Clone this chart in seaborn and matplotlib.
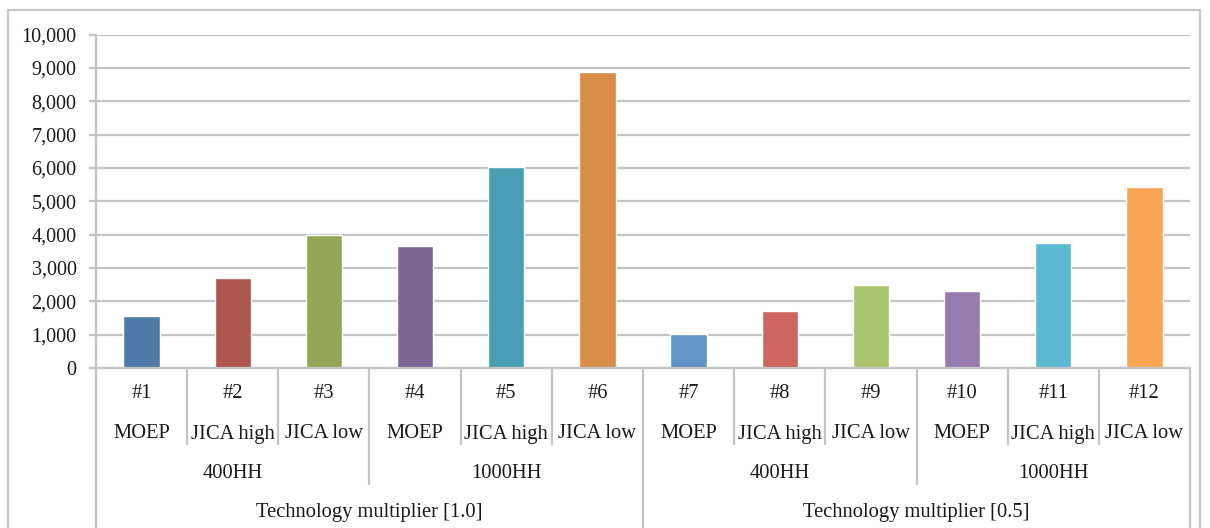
import numpy as np
import pandas as pd
import matplotlib
matplotlib.use('Agg')
import matplotlib.pyplot as plt
import seaborn as sns
from matplotlib.patches import Rectangle

# Chart data
case_ids = ['#1', '#2', '#3', '#4', '#5', '#6', '#7', '#8', '#9', '#10', '#11', '#12']
sources = ['MOEP', 'JICA high', 'JICA low'] * 4
households = ['400HH', '1000HH', '400HH', '1000HH']
multipliers = ['Technology multiplier [1.0]', 'Technology multiplier [0.5]']
values = [1550, 2700, 4000, 3650, 6020, 8870, 1020, 1700, 2500, 2300, 3740, 5430]
bar_colors = ['#4F7BAB', '#AE5751', '#94A757', '#7E6797', '#4A9EB3', '#D88D49',
              '#6194C9', '#CC665F', '#AAC46D', '#967BB1', '#5BB9D2', '#F8A654']

df = pd.DataFrame({'case': case_ids, 'value': values})

sns.set_style('white')
plt.rcParams['font.family'] = ['Liberation Serif', 'DejaVu Serif']

W, H = 1210, 528
fig = plt.figure(figsize=(W / 100, H / 100), dpi=100)
ax_left, ax_right, ax_top, ax_bottom = 96, 1190, 34.7, 368
ax = fig.add_axes([ax_left / W, 1 - ax_bottom / H, (ax_right - ax_left) / W, (ax_bottom - ax_top) / H])

sns.barplot(data=df, x='case', y='value', hue='case', palette=bar_colors,
            order=case_ids, width=0.4, legend=False, saturation=1, ax=ax)

grid_c = '#C4C4C4'
ax.set_ylim(0, 10000)
ax.set_xlim(-0.5, len(case_ids) - 0.5)
ax.set_yticks(np.arange(0, 10001, 1000))
ax.set_yticklabels(['{:,}'.format(v) for v in range(0, 10001, 1000)])
ax.yaxis.grid(True, color=grid_c, linewidth=1.6)
ax.set_axisbelow(True)
ax.set_xticks([])
ax.set_xlabel('')
ax.set_ylabel('')
for s in ['top', 'right']:
    ax.spines[s].set_visible(False)
ax.spines['left'].set_color(grid_c)
ax.spines['left'].set_linewidth(1.6)
ax.spines['bottom'].set_color(grid_c)
ax.spines['bottom'].set_linewidth(1.6)
ax.tick_params(axis='y', length=5, width=1.6, color=grid_c, pad=9,
               labelsize=14.5, labelcolor='#1a1a1a', left=True)

# multi-level category labels
ah = ax_bottom - ax_top
def yfrac(py):
    return (ax_bottom - py) / ah

tr = ax.get_xaxis_transform()
fs = 14.8
tc = '#1a1a1a'
for i, (cid, src) in enumerate(zip(case_ids, sources)):
    ax.text(i, yfrac(393), cid, ha='center', va='center', fontsize=fs, color=tc, transform=tr)
    ax.text(i, yfrac(434), src, ha='center', va='center', fontsize=fs, color=tc, transform=tr)
for g, hh in enumerate(households):
    ax.text(g * 3 + 1, yfrac(474), hh, ha='center', va='center', fontsize=fs, color=tc, transform=tr)
for m, lab in enumerate(multipliers):
    ax.text(m * 6 + 2.5, yfrac(513), lab, ha='center', va='center', fontsize=fs, color=tc, transform=tr)

# separators below the axis
for b in range(len(case_ids) + 1):
    x = b - 0.5
    if b % 6 == 0:
        y_end = yfrac(H)
    elif b % 3 == 0:
        y_end = yfrac(484)
    else:
        y_end = yfrac(444)
    ax.plot([x, x], [0, y_end], color=grid_c, linewidth=1.6, transform=tr, clip_on=False)

# outer chart border
fig.patches.append(Rectangle((8 / W, -0.05), (1200 - 8) / W, 1 - 10 / H + 0.05,
                             transform=fig.transFigure, fill=False,
                             edgecolor='#C8C8C8', linewidth=1.6))

fig.savefig('out.png', dpi=100)
